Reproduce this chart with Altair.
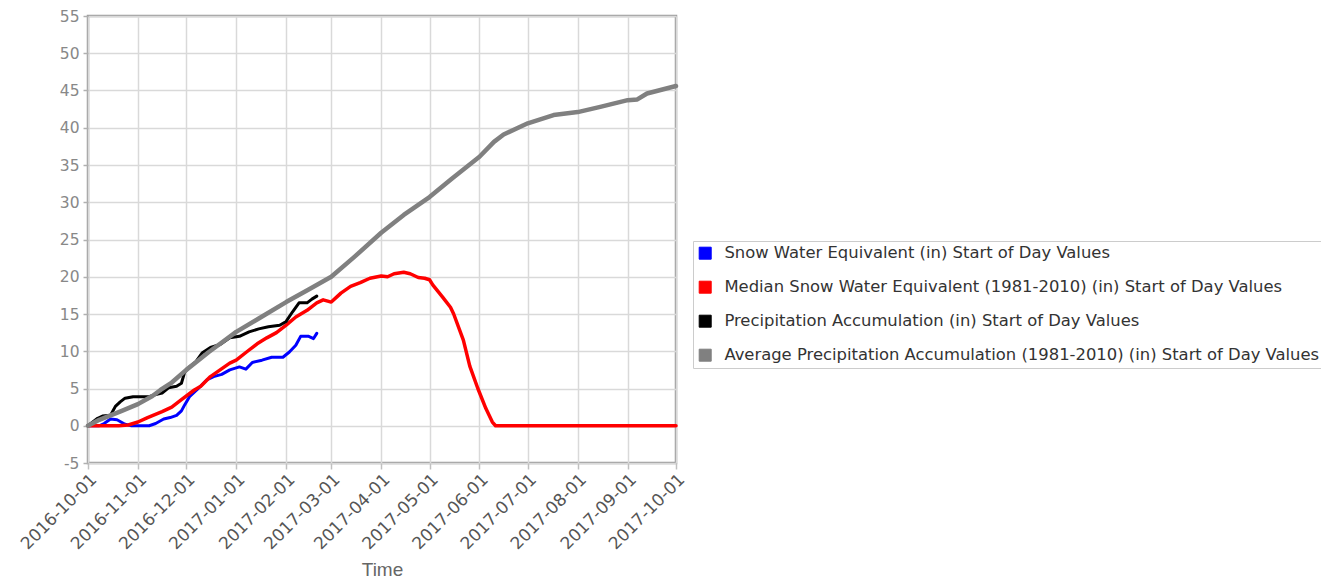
import altair as alt
import pandas as pd

series_names = [
    "Snow Water Equivalent (in) Start of Day Values",
    "Median Snow Water Equivalent (1981-2010) (in) Start of Day Values",
    "Precipitation Accumulation (in) Start of Day Values",
    "Average Precipitation Accumulation (1981-2010) (in) Start of Day Values",
]
series_colors = ["#0000ff", "#ff0000", "#000000", "#808080"]

swe_dates = ["2016-10-01", "2016-10-08", "2016-10-11", "2016-10-15", "2016-10-19", "2016-10-24",
             "2016-10-28", "2016-11-08", "2016-11-12", "2016-11-17", "2016-11-21", "2016-11-25",
             "2016-11-28", "2016-11-30", "2016-12-03", "2016-12-08", "2016-12-14", "2016-12-18",
             "2016-12-23", "2016-12-28", "2017-01-03", "2017-01-07", "2017-01-11", "2017-01-17",
             "2017-01-23", "2017-01-30", "2017-02-03", "2017-02-07", "2017-02-10", "2017-02-15",
             "2017-02-18", "2017-02-20"]
swe_values = [0, 0, 0.3, 0.9, 0.8, 0.2, 0, 0, 0.3, 0.9, 1.1, 1.4, 2.0, 2.8, 3.9, 4.9, 6.2, 6.6,
              6.9, 7.5, 7.9, 7.6, 8.5, 8.8, 9.2, 9.2, 9.9, 10.8, 12.0, 12.0, 11.7, 12.4]

median_dates = ["2016-10-01", "2016-10-20", "2016-10-26", "2016-11-01", "2016-11-07", "2016-11-16",
                "2016-11-22", "2016-11-28", "2016-12-06", "2016-12-10", "2016-12-16", "2016-12-22",
                "2016-12-28", "2017-01-01", "2017-01-08", "2017-01-14", "2017-01-20", "2017-01-26",
                "2017-02-01", "2017-02-07", "2017-02-14", "2017-02-20", "2017-02-24", "2017-03-01",
                "2017-03-05", "2017-03-07", "2017-03-13", "2017-03-19", "2017-03-25", "2017-04-01",
                "2017-04-05", "2017-04-09", "2017-04-15", "2017-04-19", "2017-04-24", "2017-04-28",
                "2017-05-01", "2017-05-03", "2017-05-09", "2017-05-14", "2017-05-16", "2017-05-22",
                "2017-05-26", "2017-05-31", "2017-06-05", "2017-06-09", "2017-06-11", "2017-10-01"]
median_values = [0, 0, 0.1, 0.5, 1.1, 1.9, 2.5, 3.5, 4.8, 5.3, 6.6, 7.5, 8.4, 8.8, 10.0, 11.0,
                 11.8, 12.5, 13.5, 14.6, 15.5, 16.5, 16.9, 16.6, 17.4, 17.8, 18.7, 19.2, 19.8,
                 20.1, 20.0, 20.4, 20.6, 20.4, 19.9, 19.8, 19.6, 18.9, 17.3, 15.9, 15.0, 11.5,
                 8.0, 5.0, 2.3, 0.5, 0, 0]

precip_dates = ["2016-10-01", "2016-10-07", "2016-10-10", "2016-10-15", "2016-10-18", "2016-10-21",
                "2016-10-24", "2016-10-29", "2016-11-04", "2016-11-08", "2016-11-12", "2016-11-16",
                "2016-11-20", "2016-11-25", "2016-11-28", "2016-11-30", "2016-12-03", "2016-12-07",
                "2016-12-11", "2016-12-16", "2016-12-22", "2016-12-28", "2017-01-03", "2017-01-09",
                "2017-01-15", "2017-01-21", "2017-01-28", "2017-02-01", "2017-02-05", "2017-02-09",
                "2017-02-14", "2017-02-17", "2017-02-20"]
precip_values = [0, 1.0, 1.3, 1.4, 2.6, 3.2, 3.7, 3.9, 3.9, 3.9, 4.2, 4.4, 5.1, 5.3, 5.7, 7.2,
                 7.9, 8.6, 9.8, 10.5, 10.9, 11.8, 12.0, 12.6, 13.0, 13.3, 13.5, 14.0, 15.3, 16.5,
                 16.5, 17.0, 17.4]

avg_dates = ["2016-10-01", "2016-10-08", "2016-10-15", "2016-10-22", "2016-11-01", "2016-11-10",
             "2016-11-15", "2016-11-22", "2016-12-01", "2016-12-08", "2016-12-15", "2016-12-22",
             "2017-01-01", "2017-01-15", "2017-02-01", "2017-02-15", "2017-03-01", "2017-03-15",
             "2017-04-01", "2017-04-15", "2017-05-01", "2017-05-15", "2017-06-01", "2017-06-10",
             "2017-06-16", "2017-07-01", "2017-07-17", "2017-08-01", "2017-08-15", "2017-09-01",
             "2017-09-07", "2017-09-13", "2017-10-01"]
avg_values = [0, 0.8, 1.4, 2.0, 2.9, 4.0, 4.8, 5.8, 7.5, 8.7, 9.9, 11.0, 12.6, 14.4, 16.6, 18.3,
              20.0, 22.6, 25.9, 28.3, 30.7, 33.2, 36.1, 38.1, 39.1, 40.6, 41.7, 42.1, 42.8, 43.7,
              43.8, 44.6, 45.6]

tick_dates = ["2016-10-01", "2016-11-01", "2016-12-01", "2017-01-01", "2017-02-01", "2017-03-01",
              "2017-04-01", "2017-05-01", "2017-06-01", "2017-07-01", "2017-08-01", "2017-09-01",
              "2017-10-01"]
y_ticks = [-5, 0, 5, 10, 15, 20, 25, 30, 35, 40, 45, 50, 55]
line_widths = [3, 3.5, 3, 4.5]

FONT = "DejaVu Sans"


def dt(s):
    y, m, d = (int(p) for p in s.split("-"))
    return alt.DateTime(year=y, month=m, date=d, utc=True)


color_scale = alt.Scale(domain=series_names, range=series_colors)

legend = alt.Legend(
    title=None,
    orient="none",
    legendX=605,
    legendY=225,
    strokeColor="#cccccc",
    fillColor="white",
    padding=4,
    symbolType="square",
    symbolSize=144,
    symbolStrokeColor="#d0d0d0",
    symbolStrokeWidth=1,
    symbolOpacity=1,
    labelFont=FONT,
    labelFontSize=16.4,
    labelColor="#333333",
    labelLimit=0,
    labelOffset=11,
    rowPadding=17,
)

x_enc = alt.X(
    "date:T",
    scale=alt.Scale(type="utc", domain=[dt(tick_dates[0]), dt(tick_dates[-1])], nice=False),
    axis=alt.Axis(
        values=[dt(s) for s in tick_dates],
        format="%Y-%m-%d",
        labelAngle=-45,
        labelFont=FONT,
        labelFontSize=17,
        labelColor="#555555",
        labelPadding=2,
        labelOverlap=False,
        labelFlush=False,
        title="Time",
        titleFont="Liberation Sans",
        titleFontSize=19,
        titleFontWeight="normal",
        titleColor="#666666",
        titleBaseline="alphabetic",
        titleY=112,
        grid=True,
        gridColor="#d9d9d9",
        gridWidth=1.5,
        tickColor="#c0c0c0",
        tickSize=6,
        tickWidth=1.5,
        domain=False,
    ),
)

y_enc = alt.Y(
    "value:Q",
    scale=alt.Scale(domain=[-5, 55], nice=False, zero=False),
    axis=alt.Axis(
        values=y_ticks,
        labelExpr="'' + datum.value",
        title=None,
        labelFont=FONT,
        labelFontSize=15.5,
        labelColor="#888888",
        labelPadding=4,
        grid=True,
        gridColor="#d9d9d9",
        gridWidth=1.5,
        tickColor="#b0b0b0",
        tickSize=5,
        tickWidth=1.5,
        domain=False,
    ),
)

# legend carrier: one row per series with no value, so nothing is drawn
legend_df = pd.DataFrame({"date": [tick_dates[0]] * 4, "value": [None] * 4, "series": series_names})
legend_layer = (
    alt.Chart(legend_df)
    .mark_square(filled=True, opacity=1, size=144)
    .encode(x=x_enc, y=y_enc, color=alt.Color("series:N", scale=color_scale, legend=legend))
)

all_dates = [swe_dates, median_dates, precip_dates, avg_dates]
all_values = [swe_values, median_values, precip_values, avg_values]

layers = [legend_layer]
for name, dts, vals, w in zip(series_names, all_dates, all_values, line_widths):
    d = pd.DataFrame({"date": dts, "value": vals, "series": name})
    layers.append(
        alt.Chart(d)
        .mark_line(strokeWidth=w, strokeJoin="round", strokeCap="round")
        .encode(x=x_enc, y=y_enc, color=alt.Color("series:N", scale=color_scale, legend=None))
    )

chart = (
    alt.layer(*layers)
    .properties(
        width=588,
        height=447,
        autosize=alt.AutoSizeParams(type="none"),
        padding={"left": 80, "top": 8, "right": 645, "bottom": 117},
    )
    .configure_view(stroke="#9a9a9a", strokeWidth=2.5)
)

chart.save("out.html", embed_options={"renderer": "svg", "actions": False})
